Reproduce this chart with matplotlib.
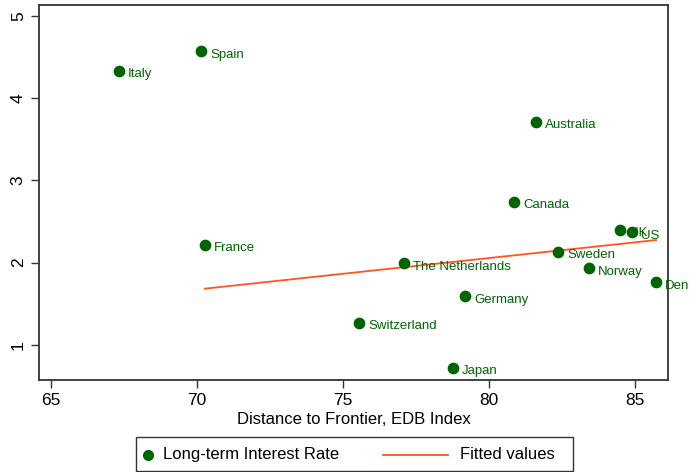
import matplotlib
matplotlib.use("Agg")
import matplotlib.pyplot as plt
from matplotlib.lines import Line2D
from matplotlib.patches import Rectangle
import numpy as np

plt.rcParams['font.family'] = ['Liberation Sans', 'DejaVu Sans']

# Data ############################################
countries = ['Italy', 'Spain', 'Australia', 'Canada', 'France', 'UK', 'US',
             'Sweden', 'The Netherlands', 'Norway', 'Denmark', 'Germany',
             'Switzerland', 'Japan']
edb = [67.33, 70.14, 81.61, 80.86, 70.27, 84.49, 84.90,
       82.36, 77.09, 83.42, 85.72, 79.18, 75.55, 78.77]
rate = [4.33, 4.57, 3.71, 2.74, 2.22, 2.40, 2.37,
        2.13, 1.99, 1.93, 1.76, 1.59, 1.27, 0.72]
# fitted line leaves out Italy and Spain
fit_countries = countries[2:]
legend_labels = ['Long-term Interest Rate', 'Fitted values']
###################################################

green = '#006400'
orange = '#ff5520'

fig = plt.figure(figsize=(6.89, 4.72), dpi=100)
ax = fig.add_axes([0.0566, 0.195, 0.913, 0.7945])

ax.scatter(edb, rate, s=55, color=green, zorder=3)
for name, x, y in zip(countries, edb, rate):
    ax.annotate(name, (x, y), xytext=(6.5, -2.5), textcoords='offset points',
                ha='left', va='center', fontsize=9.5, color=green,
                annotation_clip=False)

fx = np.array([edb[countries.index(c)] for c in fit_countries])
fy = np.array([rate[countries.index(c)] for c in fit_countries])
slope, icpt = np.polyfit(fx, fy, 1)
xs = np.array([fx.min(), fx.max()])
ax.plot(xs, icpt + slope * xs, color=orange, lw=1.3, zorder=2)

ax.set_xlim(64.59, 86.13)
ax.set_ylim(0.575, 5.13)
ax.set_xticks([65, 70, 75, 80, 85])
ax.set_yticks([1, 2, 3, 4, 5])
ax.tick_params(axis='both', direction='out', length=6, width=1, color='#333333',
               labelsize=12.5)
for lab in ax.get_yticklabels():
    lab.set_rotation(90)
    lab.set_va('center')
for sp in ax.spines.values():
    sp.set_color('#333333')
    sp.set_linewidth(1.3)
ax.set_xlabel('Distance to Frontier, EDB Index', fontsize=12, labelpad=3)

# legend box below the plot (drawn by hand to match the key layout)
fig.add_artist(Rectangle((0.1974, 0.003), 0.6342, 0.0712, transform=fig.transFigure,
                         fill=False, edgecolor='#333333', lw=1))
ly = 0.037
fig.add_artist(Line2D([0.2148], [ly], transform=fig.transFigure, marker='o',
                      ls='', color=green, markersize=7))
fig.text(0.2366, ly, legend_labels[0], fontsize=12, va='center', ha='left')
fig.add_artist(Line2D([0.5559, 0.6502], [ly, ly], transform=fig.transFigure,
                      color=orange, lw=1.3))
fig.text(0.6676, ly, legend_labels[1], fontsize=12, va='center', ha='left')

fig.savefig('out.png', dpi=100)
